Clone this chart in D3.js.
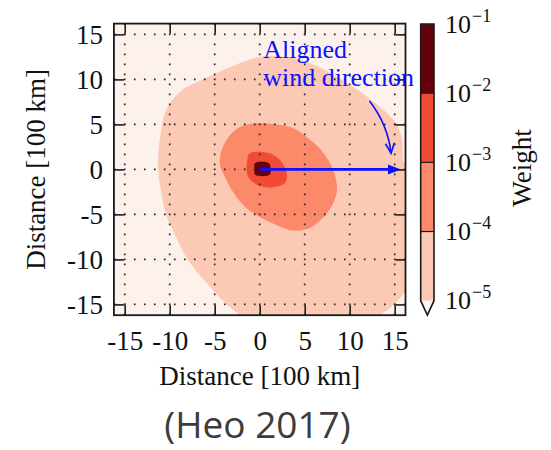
<!DOCTYPE html>
<html>
<head>
<meta charset="utf-8">
<script src="https://cdn.jsdelivr.net/npm/d3@7"></script>
<style>
  html, body { margin: 0; padding: 0; background: #ffffff; }
  svg { display: block; }
</style>
</head>
<body>
<svg id="chart" width="551" height="450"></svg>
<script>
// Axis ticks, distance in units of 100 km
const xTicks = [-15, -10, -5, 0, 5, 10, 15];
const yTicks = [-15, -10, -5, 0, 5, 10, 15];
const axisExtent = [-16.2, 16.2];

// Weight levels of the colour bar and the fill of each band between them
const levels = [1e-5, 1e-4, 1e-3, 1e-2, 1e-1];
const levelExponents = [-5, -4, -3, -2, -1];
const bandColors = ["#fcc9b4", "#fc8a6a", "#f14b36", "#67000d"];
const underColor = "#fdf1ec";      // weight below 1e-5
const extendColor = "#fff5f0";     // colour-bar extension triangle

// Contour outlines [x, y] (100 km) where the weight reaches each level
const contour1e5 = [
  [-2.2, -17.0], [-2.4, -16.1], [-3.7, -15.0], [-5.0, -13.6], [-6.1, -12.4],
  [-8.0, -10.0], [-9.4, -7.3], [-10.4, -5.0], [-10.9, -2.8], [-11.3, 0.2],
  [-11.2, 2.5], [-10.9, 4.6], [-10.6, 6.1], [-9.8, 7.6], [-8.5, 8.9],
  [-7.2, 9.6], [-5.7, 10.3], [-3.9, 11.1], [-1.7, 12.0], [0.0, 12.5],
  [2.0, 12.6], [4.5, 12.2], [6.5, 11.4], [8.2, 10.5], [10.2, 9.3],
  [11.9, 8.1], [13.3, 7.0], [14.5, 5.9], [15.3, 4.8], [15.8, 3.5],
  [15.9, 2.0], [16.0, 0.8], [17.2, 0.3], [17.2, -13.0], [16.1, -13.7],
  [15.4, -14.5], [14.5, -15.4], [13.5, -16.1], [12.8, -17.0]
];
const contour1e4 = [
  [-0.7, 5.1], [-2.2, 4.7], [-3.3, 3.8], [-4.0, 2.7], [-4.4, 1.4],
  [-4.4, 0.5], [-3.9, -0.8], [-3.1, -2.3], [-1.8, -4.0], [0.0, -5.3],
  [1.9, -6.2], [3.7, -6.8], [5.6, -6.5], [7.1, -5.3], [8.1, -3.9],
  [8.6, -2.3], [8.4, -0.8], [7.8, 0.7], [6.7, 2.3], [5.2, 3.6],
  [3.7, 4.6], [1.9, 5.0]
];
const contour1e3 = [
  [-1.1, 1.8], [-1.4, 1.0], [-1.3, -0.8], [-0.3, -1.7], [1.1, -2.0],
  [2.8, -1.5], [3.0, -0.4], [2.3, 1.0], [1.1, 1.8]
];
const contour1e2 = [
  [-0.5, 0.7], [1.0, 0.7], [1.2, 0.2], [1.1, -0.6], [-0.5, -0.6], [-0.6, 0.1]
];

// Wind-direction arrow and its callout (100 km)
const windFrom = [0, 0];
const windTo = [15.7, 0];
const calloutFrom = [12.2, 7.6];
const calloutTo = [14.6, 1.8];
const calloutLines = ["Aligned", "wind direction"];

// ---------------------------------------------------------------
const svg = d3.select("#chart");
const serif = "'Liberation Serif', 'Times New Roman', 'DejaVu Serif', serif";
const blue = "#0a12ff";

const x = d3.scaleLinear().domain(axisExtent).range([113.9, 405.5]);
const y = d3.scaleLinear().domain(axisExtent).range([315.2, 23.6]);
const [x0, x1] = x.range();
const [y0, y1] = y.range();   // y0 bottom, y1 top

svg.append("rect").attr("width", 551).attr("height", 450).attr("fill", "#ffffff");

svg.append("clipPath").attr("id", "plot-clip")
  .append("rect").attr("x", x0).attr("y", y1).attr("width", x1 - x0).attr("height", y0 - y1);

const plot = svg.append("g").attr("clip-path", "url(#plot-clip)");

plot.append("rect")
  .attr("x", x0).attr("y", y1).attr("width", x1 - x0).attr("height", y0 - y1)
  .attr("fill", underColor);

const area = d3.line().x(d => x(d[0])).y(d => y(d[1])).curve(d3.curveCatmullRomClosed.alpha(0.5));
const contours = [contour1e5, contour1e4, contour1e3, contour1e2];
plot.selectAll("path.band")
  .data(contours)
  .join("path")
  .attr("class", "band")
  .attr("d", area)
  .attr("fill", (d, i) => bandColors[i]);

// Dotted grid at every tick
const grid = plot.append("g")
  .attr("stroke", "#2a2a2a").attr("stroke-width", 1.7)
  .attr("stroke-dasharray", "1.7,8.3");
grid.selectAll("line.gx").data(xTicks).join("line").attr("class", "gx")
  .attr("x1", d => x(d)).attr("x2", d => x(d)).attr("y1", y1).attr("y2", y0);
grid.selectAll("line.gy").data(yTicks).join("line").attr("class", "gy")
  .attr("y1", d => y(d)).attr("y2", d => y(d)).attr("x1", x0).attr("x2", x1);

// Main wind arrow
const wx0 = x(windFrom[0]), wy0 = y(windFrom[1]);
const wx1 = x(windTo[0]), wy1 = y(windTo[1]);
const headLen = 13, headHalf = 5;
plot.append("line")
  .attr("x1", wx0).attr("y1", wy0).attr("x2", wx1 - headLen + 1).attr("y2", wy1)
  .attr("stroke", blue).attr("stroke-width", 2.6);
plot.append("path")
  .attr("d", `M${wx1},${wy1} L${wx1 - headLen},${wy1 - headHalf} L${wx1 - headLen},${wy1 + headHalf} Z`)
  .attr("fill", blue);

// Axes: ticks pointing inward on all four sides
function styleAxis(g) {
  g.select(".domain").remove();
  g.selectAll(".tick line").attr("stroke", "#1e1e1e").attr("stroke-width", 1.6);
  g.selectAll(".tick text")
    .attr("fill", "#111")
    .attr("font-family", serif)
    .attr("font-size", 27);
}
const fmt = d => String(d);

svg.append("g").attr("transform", `translate(0,${y0})`)
  .call(d3.axisBottom(x).tickValues(xTicks).tickFormat(fmt).tickSize(-10).tickSizeOuter(0).tickPadding(16))
  .call(styleAxis);
svg.append("g").attr("transform", `translate(0,${y1})`)
  .call(d3.axisTop(x).tickValues(xTicks).tickFormat("").tickSize(-10).tickSizeOuter(0))
  .call(styleAxis);
svg.append("g").attr("transform", `translate(${x0},0)`)
  .call(d3.axisLeft(y).tickValues(yTicks).tickFormat(fmt).tickSize(-10).tickSizeOuter(0).tickPadding(11))
  .call(styleAxis);
svg.append("g").attr("transform", `translate(${x1},0)`)
  .call(d3.axisRight(y).tickValues(yTicks).tickFormat("").tickSize(-10).tickSizeOuter(0))
  .call(styleAxis);

svg.append("rect")
  .attr("x", x0).attr("y", y1).attr("width", x1 - x0).attr("height", y0 - y1)
  .attr("fill", "none").attr("stroke", "#1a1a1a").attr("stroke-width", 1.8);

// Axis titles
svg.append("text")
  .attr("x", (x0 + x1) / 2).attr("y", 385)
  .attr("text-anchor", "middle")
  .attr("font-family", serif).attr("font-size", 27).attr("fill", "#111")
  .text("Distance [100 km]");
svg.append("text")
  .attr("transform", `translate(45,${(y0 + y1) / 2}) rotate(-90)`)
  .attr("text-anchor", "middle")
  .attr("font-family", serif).attr("font-size", 27).attr("fill", "#111")
  .text("Distance [100 km]");

// Callout: curved arrow pointing at the wind arrow, plus its label
const c0 = [x(calloutFrom[0]), y(calloutFrom[1])];
const c1 = [x(calloutTo[0]), y(calloutTo[1])];
const cdx = c1[0] - c0[0], cdy = c1[1] - c0[1];
const clen = Math.hypot(cdx, cdy);
const bow = 0.14 * clen;
const ctrl = [(c0[0] + c1[0]) / 2 + (cdy / clen) * bow, (c0[1] + c1[1]) / 2 - (cdx / clen) * bow];
svg.append("path")
  .attr("d", `M${c0[0]},${c0[1]} Q${ctrl[0]},${ctrl[1]} ${c1[0]},${c1[1]}`)
  .attr("fill", "none").attr("stroke", blue).attr("stroke-width", 1.6);
const ang = Math.atan2(c1[1] - ctrl[1], c1[0] - ctrl[0]);
const tipLen = 11, tipAng = 0.42;
const hA = [c1[0] - tipLen * Math.cos(ang - tipAng), c1[1] - tipLen * Math.sin(ang - tipAng)];
const hB = [c1[0] - tipLen * Math.cos(ang + tipAng), c1[1] - tipLen * Math.sin(ang + tipAng)];
svg.append("path")
  .attr("d", `M${hA[0]},${hA[1]} L${c1[0]},${c1[1]} L${hB[0]},${hB[1]}`)
  .attr("fill", "none").attr("stroke", blue).attr("stroke-width", 1.6)
  .attr("stroke-linejoin", "miter");

svg.append("text")
  .attr("font-family", serif).attr("font-size", 26).attr("fill", blue)
  .selectAll("tspan").data(calloutLines).join("tspan")
  .attr("x", x(0) + 3.5)
  .attr("y", (d, i) => 58 + i * 28)
  .text(d => d);

// Colour bar (log scale) with an extension triangle for weights below 1e-5
const cb = d3.scaleLog().domain([levels[0], levels[levels.length - 1]]).range([300.7, 24]);
const cbX = 420.7, cbW = 13.3, triH = 14.3;
const cbg = svg.append("g");
cbg.selectAll("rect.cband").data(bandColors).join("rect").attr("class", "cband")
  .attr("x", cbX).attr("width", cbW)
  .attr("y", (d, i) => cb(levels[i + 1]))
  .attr("height", (d, i) => cb(levels[i]) - cb(levels[i + 1]))
  .attr("fill", d => d);
const cbBottom = cb(levels[0]);
cbg.append("path")
  .attr("d", `M${cbX},${cbBottom} L${cbX + cbW / 2},${cbBottom + triH} L${cbX + cbW},${cbBottom} Z`)
  .attr("fill", extendColor);
cbg.selectAll("line.csep").data(levels.slice(1, -1)).join("line").attr("class", "csep")
  .attr("x1", cbX).attr("x2", cbX + cbW)
  .attr("y1", d => cb(d)).attr("y2", d => cb(d))
  .attr("stroke", "#1a1a1a").attr("stroke-width", 1.2);
const cbTop = cb(levels[levels.length - 1]);
cbg.append("path")
  .attr("d", `M${cbX},${cbTop} L${cbX + cbW},${cbTop} L${cbX + cbW},${cbBottom} L${cbX + cbW / 2},${cbBottom + triH} L${cbX},${cbBottom} Z`)
  .attr("fill", "none").attr("stroke", "#1a1a1a").attr("stroke-width", 1.6);

const cbLabels = cbg.selectAll("text.clab").data(levels).join("text").attr("class", "clab")
  .attr("x", 445).attr("y", d => cb(d) + 8.5)
  .attr("font-family", serif).attr("font-size", 26).attr("fill", "#111");
cbLabels.append("tspan").text("10");
cbLabels.append("tspan")
  .attr("dx", 1).attr("dy", -11).attr("font-size", 18)
  .text((d, i) => "\u2212" + Math.abs(levelExponents[i]));

svg.append("text")
  .attr("transform", `translate(531,168) rotate(-90)`)
  .attr("text-anchor", "middle")
  .attr("font-family", serif).attr("font-size", 27).attr("fill", "#111")
  .text("Weight");

// Source line
svg.append("text")
  .attr("x", 257.5).attr("y", 438)
  .attr("text-anchor", "middle")
  .attr("font-family", "'Open Sans', 'Noto Sans', sans-serif")
  .attr("font-size", 37).attr("fill", "#3c3c3c")
  .text("(Heo 2017)");
</script>
</body>
</html>
